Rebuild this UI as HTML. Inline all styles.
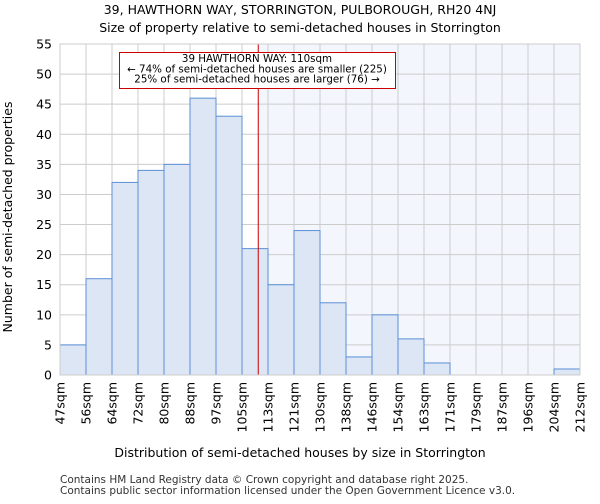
<!DOCTYPE html>
<html><head><meta charset="utf-8"><style>
body{margin:0;background:#fff;font-family:"DejaVu Sans","Liberation Sans",sans-serif;}
</style></head><body>
<svg id="chart" width="600" height="500" xmlns="http://www.w3.org/2000/svg" font-family="DejaVu Sans, Liberation Sans, sans-serif">
<text x="300" y="14" text-anchor="middle" font-size="12.5">39, HAWTHORN WAY, STORRINGTON, PULBOROUGH, RH20 4NJ</text>
<text x="300" y="32" text-anchor="middle" font-size="12.5">Size of property relative to semi-detached houses in Storrington</text>
<g id="plot"></g>
<text x="300" y="457" text-anchor="middle" font-size="12.5">Distribution of semi-detached houses by size in Storrington</text>
<text transform="translate(12,217) rotate(-90)" text-anchor="middle" font-size="12.5">Number of semi-detached properties</text>
<text x="60" y="483" font-size="10.5" fill="#333">Contains HM Land Registry data © Crown copyright and database right 2025.</text>
<text x="60" y="494" font-size="10.5" fill="#333">Contains public sector information licensed under the Open Government Licence v3.0.</text>
</svg>
<script>
const tickLabels=["47sqm","56sqm","64sqm","72sqm","80sqm","88sqm","97sqm","105sqm","113sqm","121sqm","130sqm","138sqm","146sqm","154sqm","163sqm","171sqm","179sqm","187sqm","196sqm","204sqm","212sqm"];
const counts=[5,16,32,34,35,46,43,21,15,24,12,3,10,6,2,0,0,0,0,1];
const yTicks=[0,5,10,15,20,25,30,35,40,45,50,55];
const propertyBin=7+ (110-105)/(113-105);
const L=60,R=580,T=44,B=375,yMax=55;
const n=counts.length,bw=(R-L)/n;
const x=i=>L+i*bw, y=v=>B-(v/yMax)*(B-T);
const NS="http://www.w3.org/2000/svg",g=document.getElementById('plot');
function mk(t,a){const e=document.createElementNS(NS,t);for(const k in a)e.setAttribute(k,a[k]);g.appendChild(e);return e;}
const px=x(propertyBin);
let sh=mk('rect',{x:px,y:T,width:R-px,height:B-T,fill:'#f3f6fd'});


for(let i=0;i<=n;i++){let l=mk('line',{x1:x(i),x2:x(i),y1:T,y2:B,stroke:'#ccc','stroke-width':1});

}
yTicks.forEach(v=>{let l=mk('line',{x1:L,x2:R,y1:y(v),y2:y(v),stroke:'#ccc','stroke-width':1});


let t=mk('text',{x:L-8,y:y(v)+4.5,'text-anchor':'end','font-size':12.5});t.textContent=v;

});
counts.forEach((c,i)=>{if(c<=0)return;let r=mk('rect',{x:x(i),y:y(c),width:bw,height:B-y(c),fill:'#dce6f4',stroke:'#5b8fd6','stroke-width':1});

});
tickLabels.forEach((s,i)=>{let t=mk('text',{transform:`translate(${x(i)+4.5},382) rotate(-90)`,'text-anchor':'end','font-size':12.5});t.textContent=s;

});
let rl=mk('line',{x1:px,x2:px,y1:T,y2:B,stroke:'#cc0000','stroke-width':1});


let ax=mk('rect',{x:L,y:T,width:R-L,height:B-T,fill:'none',stroke:'#ccc'});


let box=mk('rect',{x:119.5,y:52.5,width:276,height:36,fill:'#fff',stroke:'#cc0000','stroke-width':1});


["39 HAWTHORN WAY: 110sqm","← 74% of semi-detached houses are smaller (225)","25% of semi-detached houses are larger (76) →"].forEach((s,i)=>{let t=mk('text',{x:257,y:62+i*10.3,'text-anchor':'middle','font-size':10.3});t.textContent=s;

});
</script>
</body></html>
